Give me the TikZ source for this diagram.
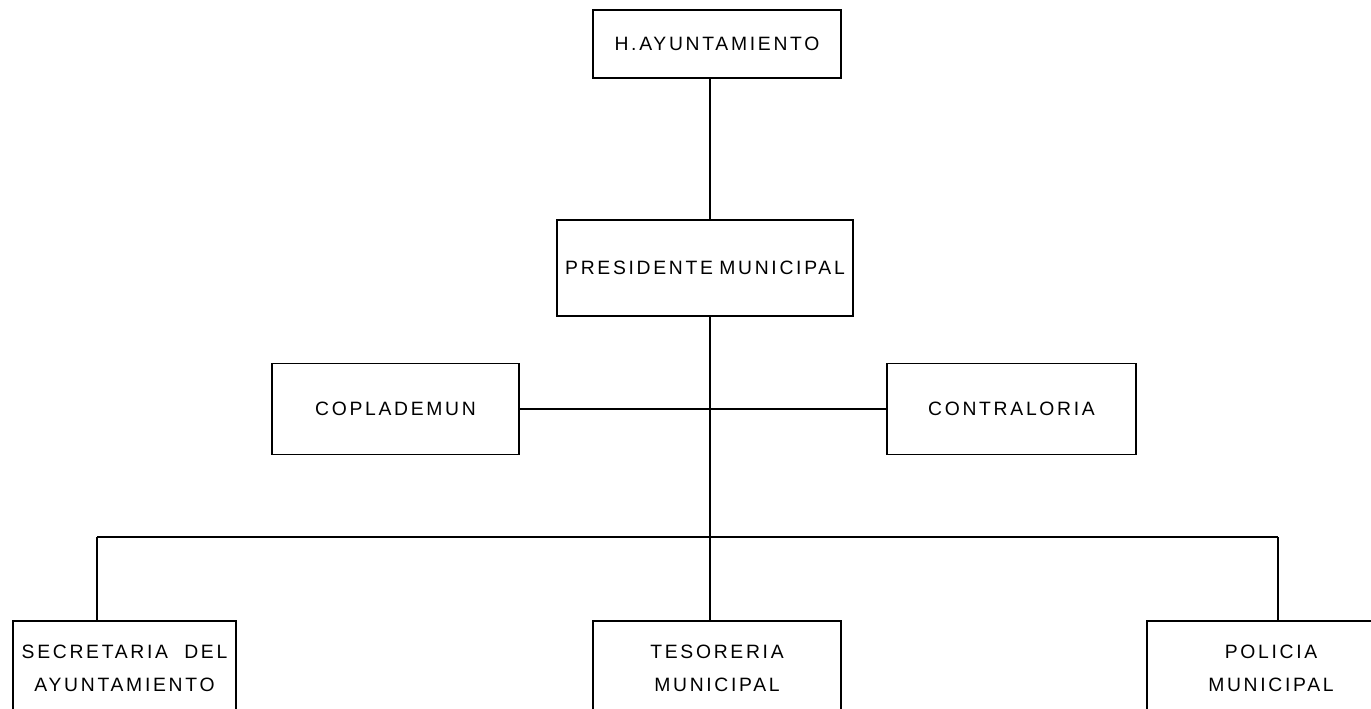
\documentclass[tikz,border=0pt]{standalone}
\usepackage{fontspec}
\setmainfont{Liberation Sans}
\newfontfamily\orgfont[LetterSpace=14]{Liberation Sans}
\usetikzlibrary{positioning}
\tikzstyle{unidad} = [draw, line width=1pt, inner sep=0pt, outer sep=0pt, align=center, font=\orgfont\fontsize{11}{19}\selectfont]
\tikzstyle{liga} = [line width=1pt]

\begin{document}
\begin{tikzpicture}[x=0.02cm,y=-0.02cm]
\useasboundingbox[fill=white] (0,0) rectangle (1371,709);
\clip (0,0) rectangle (1371,709);
% niveles del organigrama
\node[unidad, minimum width=4.96cm, minimum height=1.36cm] (ayun) at (717,44) {H.AYUNTAMIENTO};
\node[unidad, minimum width=5.92cm, minimum height=1.92cm] (pres) at (705,268) {PRESIDENTE\hspace{-1pt} MUNICIPAL};
\node[unidad, minimum width=4.94cm, minimum height=1.82cm] (copla) at (395.5,409) {COPLADEMUN};
\node[unidad, minimum width=4.98cm, minimum height=1.82cm] (contra) at (1011.5,409) {CONTRALORIA};
\node[unidad, minimum width=4.46cm, minimum height=1.9cm] (sec) at (124.5,668.5) {SECRETARIA\ \ DEL\\AYUNTAMIENTO};
\node[unidad, minimum width=4.96cm, minimum height=1.9cm] (tes) at (717,668.5) {TESORERIA\\MUNICIPAL};
\node[unidad, minimum width=4.96cm, minimum height=1.9cm] (pol) at (1271,668.5) {POLICIA\\MUNICIPAL};
% conectores
\coordinate (tronco) at (710,537);
\coordinate (busL) at (97,537);
\coordinate (busR) at (1278,537);
\draw[liga] (ayun.south -| tronco) -- (pres.north -| tronco);
\draw[liga] (pres.south -| tronco) -- (tes.north -| tronco);
\draw[liga] (copla.east) -- (contra.west);
\draw[liga] (busL) -- (busR);
\draw[liga] (busL) -- (busL |- sec.north);
\draw[liga] (busR) -- (busR |- pol.north);
\end{tikzpicture}
\end{document}
